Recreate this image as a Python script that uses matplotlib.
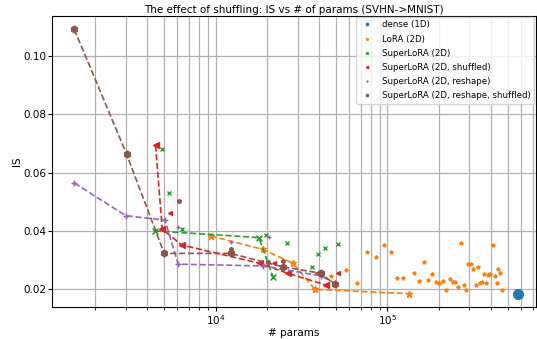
import matplotlib

matplotlib.use("Agg")

import matplotlib.pyplot as plt

plt.rcParams["font.size"] = 7.5

# all runs (scatter) per method: (params, IS)
dense_x = [574000]
dense_y = [0.0185]

lora_x = [9350, 18760, 28250, 37780, 133600, 47250, 57020, 66530, 76030, 85840,
          95170, 104900, 114300, 123900, 142800, 152700, 162500, 172200, 181700,
          191800, 199500, 210500, 220300, 230200, 239800, 248500, 258700, 267900,
          277700, 286400, 295800, 307800, 316200, 326200, 336400, 345500, 354800,
          362900, 372900, 384500, 393400, 413300, 422300, 432000, 441900, 451500,
          461700]
lora_y = [0.0383, 0.0337, 0.0289, 0.0200, 0.0185, 0.0246, 0.0265, 0.0221, 0.0327,
          0.0310, 0.0351, 0.0327, 0.0238, 0.0240, 0.0255, 0.0230, 0.0293, 0.0232,
          0.0251, 0.0224, 0.0223, 0.0227, 0.0199, 0.0235, 0.0226, 0.0224, 0.0209,
          0.0360, 0.0216, 0.0198, 0.0287, 0.0287, 0.0269, 0.0215, 0.0275, 0.0223,
          0.0224, 0.0251, 0.0221, 0.0248, 0.0253, 0.0351, 0.0246, 0.0221, 0.0269,
          0.0255, 0.0199]

sl_x = [4434, 17850, 21630, 4853, 5375, 6394, 19540, 25870, 36300, 39340, 43600, 51880]
sl_y = [0.0400, 0.0377, 0.0241, 0.0680, 0.0531, 0.0406, 0.0386, 0.0358, 0.0277,
        0.0321, 0.0340, 0.0356]

sls_x = [4477, 4893, 6340, 18100, 26220, 43780, 5420, 21820, 38970, 51880]
sls_y = [0.0693, 0.0406, 0.0352, 0.0289, 0.0255, 0.0215, 0.0460, 0.0289, 0.0257, 0.0255]

slr_x = [1507, 3010, 5073, 6062, 19000, 40930, 49390, 6062, 12220, 20420]
slr_y = [0.0564, 0.0452, 0.0437, 0.0286, 0.0280, 0.0246, 0.0221, 0.0414, 0.0361, 0.0378]

slrs_x = [1507, 3039, 5024, 12220, 24520, 40930, 49390, 6095, 12220, 24520, 20140]
slrs_y = [0.1090, 0.0662, 0.0323, 0.0323, 0.0277, 0.0255, 0.0217, 0.0503, 0.0337,
          0.0297, 0.0294]

# best-run fronts (dashed lines)
lora_front_x = [9350, 18760, 28250, 37780, 133600]
lora_front_y = [0.0383, 0.0337, 0.0289, 0.0200, 0.0185]
sl_front_x = [4434, 17850, 21630]
sl_front_y = [0.0400, 0.0377, 0.0241]
sls_front_x = [4477, 4893, 6340, 18100, 26220, 43780]
sls_front_y = [0.0693, 0.0406, 0.0352, 0.0289, 0.0255, 0.0215]
slr_front_x = [1507, 3010, 5073, 6062, 19000, 40930, 49390]
slr_front_y = [0.0564, 0.0452, 0.0437, 0.0286, 0.0280, 0.0246, 0.0221]
slrs_front_x = [1507, 3039, 5024, 12220, 24520, 40930, 49390]
slrs_front_y = [0.1090, 0.0662, 0.0323, 0.0323, 0.0277, 0.0255, 0.0217]

fig = plt.figure(figsize=(5.37, 3.39), dpi=100)
ax = fig.add_axes([0.0974, 0.0944, 0.9, 0.8593])

series = [
    ("dense (1D)", dense_x, dense_y, "o", "C0", dense_x, dense_y),
    ("LoRA (2D)", lora_x, lora_y, "*", "C1", lora_front_x, lora_front_y),
    ("SuperLoRA (2D)", sl_x, sl_y, "x", "C2", sl_front_x, sl_front_y),
    ("SuperLoRA (2D, shuffled)", sls_x, sls_y, "<", "C3", sls_front_x, sls_front_y),
    ("SuperLoRA (2D, reshape)", slr_x, slr_y, "+", "C4", slr_front_x, slr_front_y),
    ("SuperLoRA (2D, reshape, shuffled)", slrs_x, slrs_y, "h", "C5",
     slrs_front_x, slrs_front_y),
]

for label, xs, ys, m, c, fx, fy in series:
    ax.plot(xs, ys, m, color=c, markersize=2.8, label=label)
    big = 7 if label.startswith("dense") else 4.8
    ax.plot(fx, fy, "--", marker=m, color=c, markersize=big, linewidth=1.2)

ax.set_xscale("log")
ax.set_xlim(1122, 727800)
ax.set_ylim(0.01394, 0.1137)
ax.set_yticks([0.02, 0.04, 0.06, 0.08, 0.10])
ax.grid(True, which="both", linewidth=0.9)
ax.tick_params(which="major", length=3, pad=1.5)
ax.tick_params(which="minor", length=1.8)

ax.set_title("The effect of shuffling: IS vs # of params (SVHN->MNIST)",
             fontsize=7.5, pad=2)
ax.set_xlabel("# params", labelpad=0.5)
ax.set_ylabel("IS", labelpad=1)
ax.legend(loc="upper right", fontsize=6.2, markerscale=0.6, handletextpad=1.0,
          handlelength=1.6, borderaxespad=0.15, labelspacing=0.6)

fig.savefig("out.png", dpi=100)
